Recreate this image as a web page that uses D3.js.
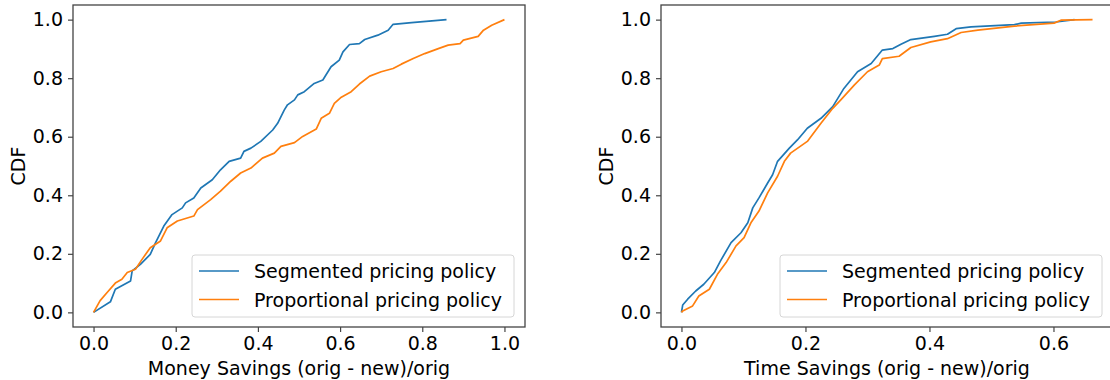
<!DOCTYPE html>
<html lang="en">
<head>
<meta charset="utf-8">
<title>CDF of savings</title>
<script src="https://cdn.jsdelivr.net/npm/d3@7"></script>
<style>
  body { margin: 0; background: #fff; }
  text { font-family: "DejaVu Sans", sans-serif; fill: #000; }
</style>
</head>
<body>
<script>
// series names
var seriesNames = ["Segmented pricing policy", "Proportional pricing policy"];
var colors = ["#1f77b4", "#ff7f0e"];

// money savings CDF, [savings, cdf]
var moneySegmented = [[0,0],[0.041,0.036],[0.053,0.079],[0.090,0.107],[0.094,0.142],[0.114,0.164],
  [0.138,0.198],[0.151,0.238],[0.171,0.295],[0.191,0.334],[0.216,0.357],[0.224,0.374],[0.244,0.391],
  [0.261,0.425],[0.289,0.453],[0.309,0.487],[0.330,0.516],[0.358,0.527],[0.366,0.550],[0.383,0.561],
  [0.407,0.584],[0.436,0.623],[0.448,0.646],[0.464,0.691],[0.472,0.709],[0.489,0.726],[0.497,0.743],
  [0.513,0.754],[0.537,0.782],[0.558,0.794],[0.578,0.839],[0.598,0.862],[0.607,0.890],[0.623,0.915],
  [0.647,0.918],[0.660,0.932],[0.692,0.947],[0.717,0.964],[0.729,0.984],[0.774,0.990],[0.859,1.0]];
var moneyProportional = [[0,0],[0.016,0.040],[0.033,0.068],[0.053,0.100],[0.069,0.113],[0.082,0.136],
  [0.102,0.147],[0.118,0.181],[0.138,0.221],[0.163,0.244],[0.179,0.289],[0.204,0.312],[0.244,0.329],
  [0.253,0.351],[0.285,0.385],[0.309,0.414],[0.334,0.448],[0.358,0.476],[0.383,0.493],[0.411,0.527],
  [0.440,0.544],[0.456,0.567],[0.489,0.580],[0.509,0.601],[0.542,0.626],[0.554,0.663],[0.574,0.680],
  [0.586,0.714],[0.603,0.735],[0.627,0.754],[0.647,0.780],[0.672,0.807],[0.700,0.822],[0.729,0.833],
  [0.749,0.848],[0.778,0.867],[0.806,0.884],[0.839,0.901],[0.863,0.913],[0.892,0.918],[0.900,0.930],
  [0.936,0.943],[0.949,0.964],[0.969,0.981],[1.0,1.0]];

// time savings CDF
var timeSegmented = [[0,0],[0.002,0.025],[0.010,0.045],[0.023,0.073],[0.036,0.096],[0.053,0.136],
  [0.063,0.176],[0.080,0.238],[0.096,0.272],[0.107,0.306],[0.115,0.357],[0.125,0.391],[0.139,0.442],
  [0.147,0.470],[0.155,0.516],[0.174,0.561],[0.187,0.589],[0.203,0.629],[0.225,0.663],[0.244,0.703],
  [0.262,0.765],[0.284,0.822],[0.306,0.850],[0.324,0.896],[0.341,0.901],[0.354,0.916],[0.370,0.932],
  [0.408,0.943],[0.429,0.950],[0.443,0.969],[0.467,0.975],[0.537,0.983],[0.548,0.988],[0.604,0.992],
  [0.634,1.0]];
var timeProportional = [[0,0],[0.002,0.005],[0.018,0.022],[0.028,0.056],[0.045,0.079],[0.058,0.130],
  [0.072,0.170],[0.088,0.227],[0.101,0.255],[0.112,0.306],[0.125,0.346],[0.139,0.408],[0.155,0.465],
  [0.166,0.516],[0.176,0.544],[0.203,0.584],[0.225,0.646],[0.244,0.697],[0.257,0.726],[0.279,0.777],
  [0.300,0.822],[0.319,0.845],[0.324,0.867],[0.351,0.875],[0.370,0.905],[0.402,0.924],[0.429,0.935],
  [0.451,0.956],[0.478,0.964],[0.537,0.978],[0.601,0.988],[0.612,0.998],[0.663,1.0]];

var yTicks = [0, 0.2, 0.4, 0.6, 0.8, 1.0];
var moneyTicks = [0, 0.2, 0.4, 0.6, 0.8, 1.0];
var timeTicks = [0, 0.2, 0.4, 0.6];

var W = 1110, H = 380;
var svg = d3.select("body").append("svg")
    .attr("width", W).attr("height", H);

var panels = [
  {left: 73, xDomain: [-0.05, 1.05], ticks: moneyTicks, data: [moneySegmented, moneyProportional],
   xLabel: "Money Savings (orig - new)/orig", legendLeft: 192},
  {left: 661, xDomain: [-0.033, 0.696], ticks: timeTicks, data: [timeSegmented, timeProportional],
   xLabel: "Time Savings (orig - new)/orig", legendLeft: 780}
];

var plotTop = 5, plotBottom = 327, pw = 452;
var fs = 19;

panels.forEach(function(p) {
  var x = d3.scaleLinear().domain(p.xDomain).range([p.left, p.left + pw]);
  var y = d3.scaleLinear().domain([-0.05, 1.05]).range([plotBottom, plotTop]);

  var g = svg.append("g");

  var clipId = "clip" + p.left;
  g.append("clipPath").attr("id", clipId)
    .append("rect").attr("x", p.left).attr("y", plotTop).attr("width", pw).attr("height", plotBottom - plotTop);

  var line = d3.line()
      .x(function(d) { return x(d[0]); })
      .y(function(d) { return y(d[1]); });

  g.selectAll("path.cdf")
    .data(p.data)
    .enter()
    .append("path")
    .attr("class", "cdf")
    .attr("clip-path", "url(#" + clipId + ")")
    .attr("fill", "none")
    .attr("stroke", function(d, i) { return colors[i]; })
    .attr("stroke-width", 1.7)
    .attr("stroke-linejoin", "round")
    .attr("d", line);

  // frame
  g.append("rect")
    .attr("x", p.left).attr("y", plotTop)
    .attr("width", pw).attr("height", plotBottom - plotTop)
    .attr("fill", "none").attr("stroke", "#444").attr("stroke-width", 1.3);

  // axes
  var xAxis = d3.axisBottom(x).tickValues(p.ticks).tickSize(5).tickPadding(5)
      .tickFormat(d3.format(".1f"));
  var ax = g.append("g").attr("transform", "translate(0," + plotBottom + ")").call(xAxis);
  var yAxis = d3.axisLeft(y).tickValues(yTicks).tickSize(5).tickPadding(5)
      .tickFormat(d3.format(".1f"));
  var ay = g.append("g").attr("transform", "translate(" + p.left + ",0)").call(yAxis);
  [ax, ay].forEach(function(a) {
    a.select(".domain").remove();
    a.selectAll(".tick line").attr("stroke", "#444").attr("stroke-width", 1.2);
    a.selectAll(".tick text").style("font-size", fs + "px").attr("fill", "#000")
      .style("font-family", "DejaVu Sans, sans-serif");
  });

  g.append("text")
    .attr("x", p.left + pw / 2).attr("y", 375)
    .attr("text-anchor", "middle")
    .style("font-size", fs + "px")
    .text(p.xLabel);

  g.append("text")
    .attr("transform", "translate(" + (p.left - 48) + "," + ((plotTop + plotBottom) / 2) + ") rotate(-90)")
    .attr("text-anchor", "middle")
    .style("font-size", fs + "px")
    .text("CDF");

  // legend
  var lg = g.append("g").attr("transform", "translate(" + p.legendLeft + ",255)");
  lg.append("rect")
    .attr("width", 322).attr("height", 62).attr("rx", 3)
    .attr("fill", "#fff").attr("fill-opacity", 0.8)
    .attr("stroke", "#d6d6d6");
  seriesNames.forEach(function(name, i) {
    var yy = 16 + i * 28.5;
    lg.append("line")
      .attr("x1", 7).attr("x2", 47).attr("y1", yy).attr("y2", yy)
      .attr("stroke", colors[i]).attr("stroke-width", 1.7);
    lg.append("text")
      .attr("x", 62).attr("y", yy + 7)
      .style("font-size", fs + "px")
      .text(name);
  });
});
</script>
</body>
</html>
